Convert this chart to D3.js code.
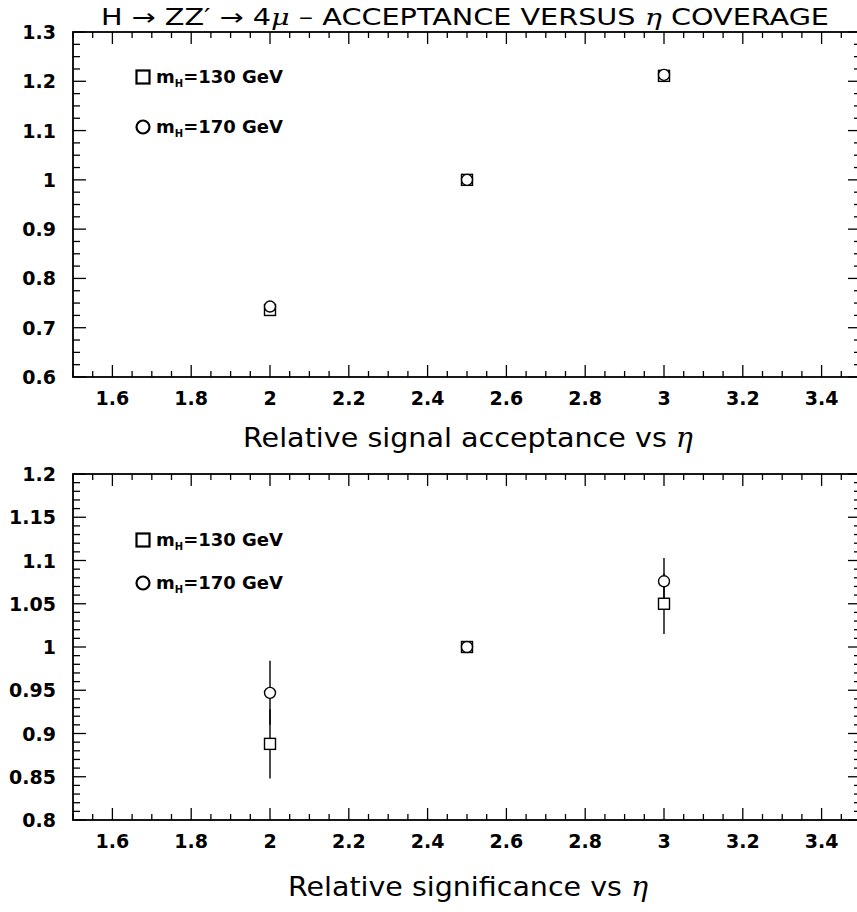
<!DOCTYPE html>
<html>
<head>
<meta charset="utf-8">
<script src="https://cdn.jsdelivr.net/npm/d3@7"></script>
<style>
  html, body { margin: 0; padding: 0; background: #fff; overflow: hidden; }
  svg { display: block; }
  text { font-family: "DejaVu Sans", "Noto Sans", sans-serif; fill: #000; }
</style>
</head>
<body>
<svg id="chart" width="857" height="912"></svg>
<script>
// Pseudorapidity coverage values (x) shared by both panels
const etaValues = [2.0, 2.5, 3.0];

// Relative signal acceptance
const accept130 = [0.736, 1.000, 1.211];
const accept130Err = [0.006, 0.0, 0.007];
const accept170 = [0.743, 1.000, 1.213];
const accept170Err = [0.006, 0.0, 0.008];

// Relative significance
const signif130 = [0.888, 1.000, 1.050];
const signif130Err = [0.040, 0.0, 0.035];
const signif170 = [0.947, 1.000, 1.076];
const signif170Err = [0.037, 0.0, 0.027];

// Axis ticks
const xTickLabels = [1.6, 1.8, 2.0, 2.2, 2.4, 2.6, 2.8, 3.0, 3.2, 3.4];
const yTopTickLabels = [0.6, 0.7, 0.8, 0.9, 1.0, 1.1, 1.2, 1.3];
const yBotTickLabels = [0.8, 0.85, 0.9, 0.95, 1.0, 1.05, 1.1, 1.15, 1.2];

const legendLabels = ["130 GeV", "170 GeV"];

const svg = d3.select("#chart");

// frame extends slightly past the right edge of the canvas
const X0 = 73, X1 = 861;

function fmt(v) {
  // strip trailing zeros, e.g. 1.0 -> "1", 0.85 -> "0.85"
  return String(+v.toFixed(3));
}

function drawPanel(opts) {
  const g = svg.append("g");
  const x = d3.scaleLinear().domain([1.5, 3.5]).range([X0, X1]);
  const y = d3.scaleLinear().domain(opts.yDomain).range([opts.bottom, opts.top]);

  const majLen = 12, minLen = 6;

  // x ticks: minor every 0.05, major every 0.2 (bottom and top, inward)
  const xMinor = d3.range(1.5, 3.5001, 0.05).map(v => +v.toFixed(3));
  xMinor.forEach(v => {
    const isMajor = xTickLabels.some(t => Math.abs(t - v) < 1e-6);
    const len = isMajor ? majLen : minLen;
    const px = x(v);
    g.append("line").attr("x1", px).attr("x2", px)
      .attr("y1", y.range()[0]).attr("y2", y.range()[0] - len)
      .attr("stroke", "#000").attr("stroke-width", 1.3);
    g.append("line").attr("x1", px).attr("x2", px)
      .attr("y1", y.range()[1]).attr("y2", y.range()[1] + len)
      .attr("stroke", "#000").attr("stroke-width", 1.3);
  });

  // y ticks (left and right, inward)
  const [ylo, yhi] = opts.yDomain;
  const yMinor = d3.range(ylo, yhi + opts.yMinorStep / 2, opts.yMinorStep).map(v => +v.toFixed(4));
  yMinor.forEach(v => {
    const isMajor = opts.yTicks.some(t => Math.abs(t - v) < 1e-6);
    const len = isMajor ? 13 : 7;
    const py = y(v);
    g.append("line").attr("x1", X0).attr("x2", X0 + len)
      .attr("y1", py).attr("y2", py)
      .attr("stroke", "#000").attr("stroke-width", 1.3);
    g.append("line").attr("x1", X1).attr("x2", X1 - len)
      .attr("y1", py).attr("y2", py)
      .attr("stroke", "#000").attr("stroke-width", 1.3);
  });

  // frame
  g.append("rect")
    .attr("x", X0).attr("y", opts.top)
    .attr("width", X1 - X0).attr("height", opts.bottom - opts.top)
    .attr("fill", "none").attr("stroke", "#000").attr("stroke-width", 1.8);

  // tick labels
  g.selectAll(".xl").data(xTickLabels).enter().append("text")
    .attr("x", d => x(d)).attr("y", opts.bottom + 28)
    .attr("text-anchor", "middle")
    .attr("font-size", 19).attr("font-weight", "bold")
    .text(d => fmt(d));
  g.selectAll(".yl").data(opts.yTicks).enter().append("text")
    .attr("x", 56).attr("y", d => y(d) + 7)
    .attr("text-anchor", "end")
    .attr("font-size", 19).attr("font-weight", "bold")
    .text(d => fmt(d));

  // axis title
  const t = g.append("text")
    .attr("x", opts.titleX).attr("y", opts.titleY)
    .attr("text-anchor", "middle")
    .attr("font-size", 27)
    .attr("textLength", opts.titleLen).attr("lengthAdjust", "spacingAndGlyphs");
  t.append("tspan").text(opts.title + " ");
  t.append("tspan").attr("font-style", "italic").attr("font-family", "DejaVu Serif").text("η");

  // error bars
  const series = [
    { vals: opts.v130, errs: opts.e130, shape: "square" },
    { vals: opts.v170, errs: opts.e170, shape: "circle" }
  ];
  series.forEach(s => {
    etaValues.forEach((e, i) => {
      if (s.errs[i] > 0) {
        g.append("line")
          .attr("x1", x(e)).attr("x2", x(e))
          .attr("y1", y(s.vals[i] - s.errs[i])).attr("y2", y(s.vals[i] + s.errs[i]))
          .attr("stroke", "#000").attr("stroke-width", 1.4);
      }
    });
  });
  // markers
  series.forEach(s => {
    etaValues.forEach((e, i) => {
      drawMarker(g, s.shape, x(e), y(s.vals[i]));
    });
  });

  // legend
  series.forEach((s, k) => {
    const ly = opts.legendY[k];
    drawMarker(g, s.shape, 143, ly, 13, 2.2);
    const lt = g.append("text").attr("x", 156).attr("y", ly + 6)
      .attr("font-size", 18).attr("font-weight", "bold");
    lt.append("tspan").text("m");
    lt.append("tspan").attr("font-size", 10).attr("dy", 4).text("H");
    lt.append("tspan").attr("dy", -4).text("=" + legendLabels[k]);
  });
}

function drawMarker(g, shape, cx, cy, size = 11, sw = 1.4) {
  if (shape === "square") {
    g.append("rect")
      .attr("x", cx - size / 2).attr("y", cy - size / 2)
      .attr("width", size).attr("height", size)
      .attr("fill", "#fff").attr("stroke", "#000").attr("stroke-width", sw);
  } else {
    g.append("circle")
      .attr("cx", cx).attr("cy", cy).attr("r", size / 2)
      .attr("fill", "#fff").attr("stroke", "#000").attr("stroke-width", sw);
  }
}

// Title
const title = svg.append("text")
  .attr("x", 465).attr("y", 25)
  .attr("text-anchor", "middle")
  .attr("font-size", 23)
  .attr("textLength", 728).attr("lengthAdjust", "spacingAndGlyphs");
title.append("tspan").text("H \u2192 ZZ\u2032 \u2192 4");
title.append("tspan").attr("font-style", "italic").attr("font-family", "DejaVu Serif").text("\u03BC");
title.append("tspan").text(" \u2013 ACCEPTANCE VERSUS ");
title.append("tspan").attr("font-style", "italic").attr("font-family", "DejaVu Serif").text("\u03B7");
title.append("tspan").text(" COVERAGE");

drawPanel({
  top: 32, bottom: 377,
  yDomain: [0.6, 1.3], yTicks: yTopTickLabels, yMinorStep: 0.025,
  v130: accept130, e130: accept130Err, v170: accept170, e170: accept170Err,
  legendY: [77, 127],
  title: "Relative signal acceptance vs", titleX: 468, titleY: 447, titleLen: 450
});

drawPanel({
  top: 474, bottom: 820,
  yDomain: [0.8, 1.2], yTicks: yBotTickLabels, yMinorStep: 0.01,
  v130: signif130, e130: signif130Err, v170: signif170, e170: signif170Err,
  legendY: [540, 583],
  title: "Relative significance vs", titleX: 468, titleY: 896, titleLen: 360
});
</script>
</body>
</html>
